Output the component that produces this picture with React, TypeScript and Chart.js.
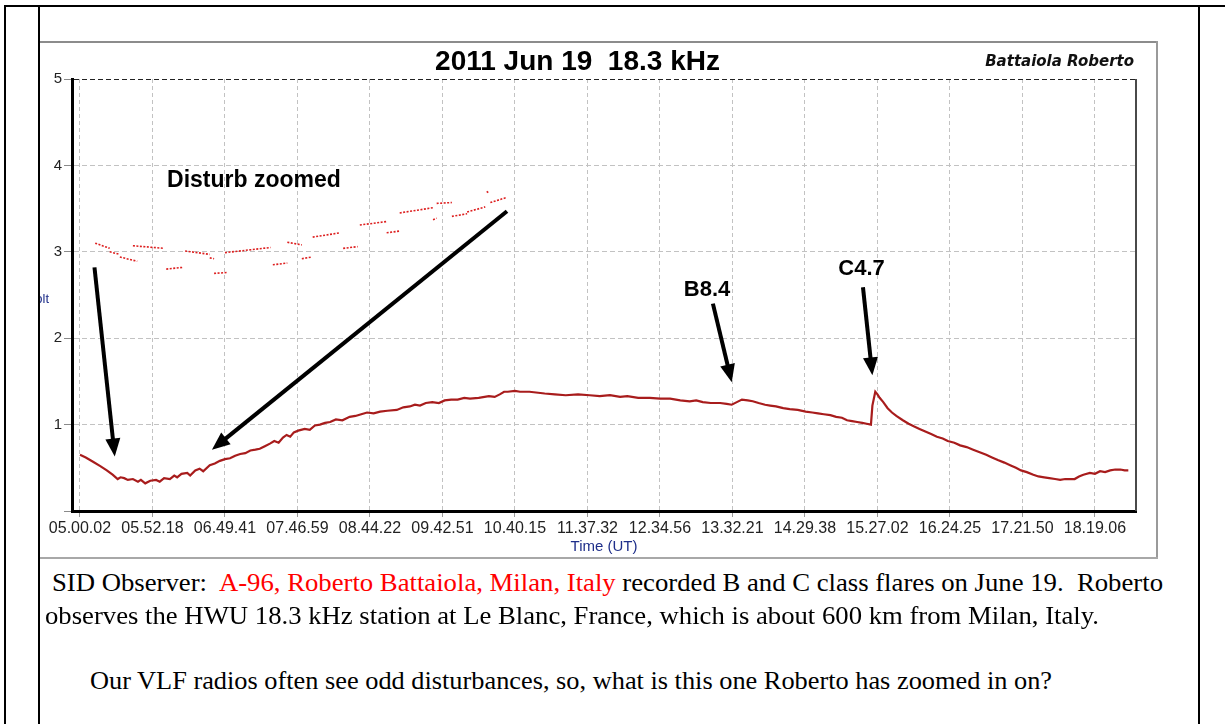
import React, { useEffect, useLayoutEffect, useRef } from "react";
import { Chart, registerables } from "chart.js";

Chart.register(...registerables);

// ---------- data ----------
const chartTitle = "2011 Jun 19  18.3 kHz";
const authorName = "Battaiola Roberto";
const xAxisTitle = "Time (UT)";
const yAxisTitle = "Volt";

const tickLabels = [
  "05.00.02", "05.52.18", "06.49.41", "07.46.59", "08.44.22", "09.42.51", "10.40.15",
  "11.37.32", "12.34.56", "13.32.21", "14.29.38", "15.27.02", "16.24.25", "17.21.50", "18.19.06",
];
const yTicks = [0, 1, 2, 3, 4, 5];

// main 18.3 kHz trace: position in tick-label units, amplitude in volt
const traceTime = [
  0.00, 0.08, 0.18, 0.28, 0.37, 0.45, 0.52, 0.56, 0.61, 0.66, 0.73, 0.80, 0.84, 0.90, 0.97, 1.05,
  1.10, 1.16, 1.24, 1.30, 1.34, 1.40, 1.48, 1.52, 1.59, 1.65, 1.70, 1.79, 1.86, 1.93, 2.00, 2.07,
  2.14, 2.21, 2.28, 2.35, 2.42, 2.48, 2.55, 2.62, 2.68, 2.74, 2.80, 2.85, 2.90, 2.95, 3.01, 3.10,
  3.17, 3.24, 3.31, 3.38, 3.45, 3.53, 3.62, 3.72, 3.80, 3.88, 3.96, 4.05, 4.14, 4.24, 4.37, 4.46,
  4.55, 4.62, 4.69, 4.77, 4.86, 4.95, 5.03, 5.12, 5.21, 5.30, 5.38, 5.50, 5.64, 5.72, 5.79, 5.85,
  5.90, 6.00, 6.07, 6.20, 6.41, 6.55, 6.70, 6.87, 7.03, 7.17, 7.31, 7.45, 7.55, 7.70, 7.86, 8.00,
  8.14, 8.28, 8.41, 8.50, 8.59, 8.70, 8.83, 8.92, 8.99, 9.06, 9.13, 9.21, 9.28, 9.36, 9.45, 9.52,
  9.60, 9.70, 9.79, 9.90, 10.01, 10.10, 10.18, 10.26, 10.35, 10.43, 10.51, 10.58, 10.65, 10.72,
  10.79, 10.85, 10.91, 10.93, 10.97, 11.00, 11.03, 11.08, 11.14, 11.20, 11.26, 11.35, 11.43, 11.50,
  11.58, 11.66, 11.74, 11.82, 11.90, 11.97, 12.06, 12.14, 12.23, 12.32, 12.41, 12.50, 12.58, 12.66,
  12.75, 12.83, 12.91, 12.98, 13.06, 13.15, 13.22, 13.30, 13.37, 13.45, 13.52, 13.59, 13.66, 13.72,
  13.78, 13.84, 13.93, 14.00, 14.07, 14.14, 14.21, 14.28, 14.35, 14.41, 14.46,
];
const traceVolt = [
  0.65, 0.62, 0.57, 0.52, 0.47, 0.42, 0.37, 0.39, 0.38, 0.36, 0.37, 0.34, 0.36, 0.32, 0.35, 0.36,
  0.34, 0.38, 0.37, 0.41, 0.39, 0.43, 0.44, 0.41, 0.47, 0.49, 0.46, 0.53, 0.55, 0.58, 0.60, 0.61,
  0.64, 0.66, 0.67, 0.70, 0.71, 0.72, 0.75, 0.78, 0.81, 0.79, 0.85, 0.88, 0.86, 0.91, 0.93, 0.95,
  0.94, 0.99, 1.00, 1.02, 1.03, 1.06, 1.05, 1.09, 1.10, 1.12, 1.14, 1.13, 1.15, 1.16, 1.17, 1.20,
  1.21, 1.23, 1.22, 1.25, 1.26, 1.25, 1.28, 1.29, 1.29, 1.31, 1.30, 1.31, 1.33, 1.32, 1.35, 1.38,
  1.38, 1.39, 1.38, 1.38, 1.36, 1.35, 1.34, 1.35, 1.34, 1.33, 1.34, 1.32, 1.33, 1.31, 1.31, 1.30,
  1.30, 1.28, 1.27, 1.28, 1.26, 1.25, 1.25, 1.24, 1.23, 1.26, 1.29, 1.28, 1.27, 1.25, 1.23, 1.22,
  1.21, 1.19, 1.18, 1.17, 1.15, 1.14, 1.13, 1.12, 1.11, 1.09, 1.08, 1.05, 1.04, 1.03,
  1.02, 1.01, 1.00, 1.22, 1.38, 1.35, 1.31, 1.26, 1.19, 1.14, 1.10, 1.05, 1.01, 0.98,
  0.95, 0.92, 0.89, 0.86, 0.84, 0.81, 0.79, 0.76, 0.74, 0.71, 0.68, 0.65, 0.62, 0.59,
  0.56, 0.53, 0.50, 0.47, 0.45, 0.42, 0.40, 0.39, 0.38, 0.37, 0.36, 0.37, 0.37, 0.37,
  0.40, 0.42, 0.44, 0.43, 0.46, 0.45, 0.47, 0.48, 0.48, 0.47, 0.47,
];

// zoomed disturbance: stepped segments (start, end, value at start, value at end)
const disturbStart = [0.21, 0.41, 0.55, 0.73, 1.19, 1.45, 1.79, 1.85, 2.00, 2.66, 2.86, 3.06, 3.21, 3.63, 3.86, 4.23, 4.41, 4.87, 4.92, 5.13, 5.34, 5.61, 5.66];
const disturbEnd = [0.41, 0.55, 0.79, 1.16, 1.42, 1.79, 1.85, 2.03, 2.63, 2.86, 3.06, 3.20, 3.59, 3.83, 4.23, 4.41, 4.87, 4.92, 5.13, 5.34, 5.59, 5.64, 5.89];
const disturbFrom = [3.10, 3.00, 2.94, 3.07, 2.80, 3.01, 2.93, 2.75, 2.99, 2.85, 3.11, 2.92, 3.17, 3.04, 3.31, 3.22, 3.45, 3.37, 3.56, 3.41, 3.46, 3.70, 3.57];
const disturbTo = [3.04, 2.97, 2.89, 3.04, 2.82, 2.97, 2.92, 2.76, 3.05, 2.87, 3.08, 2.94, 3.22, 3.06, 3.35, 3.24, 3.51, 3.39, 3.57, 3.44, 3.52, 3.68, 3.63];

// annotations
const noteText = ["Disturb zoomed", "B8.4", "C4.7"];
const noteX = [2.40, 8.65, 10.78];
const noteY = [3.82, 2.56, 2.80];
const arrowTailX = [0.20, 5.89, 8.73, 10.80];
const arrowTailY = [2.82, 3.47, 2.40, 2.59];
const arrowTipX = [0.48, 1.82, 8.99, 10.93];
const arrowTipY = [0.63, 0.71, 1.49, 1.57];

const X_MIN = -0.11;
const X_MAX = 14.566;

const SANS = '"Liberation Sans", Arial, Helvetica, sans-serif';
const SERIF = '"Liberation Serif", "Times New Roman", Times, serif';

function drawArrow(ctx: CanvasRenderingContext2D, x1: number, y1: number, x2: number, y2: number) {
  const ang = Math.atan2(y2 - y1, x2 - x1);
  const headLen = 18;
  const headW = 7.5;
  const c = Math.cos(ang);
  const s = Math.sin(ang);
  const bx = x2 - headLen * c;
  const by = y2 - headLen * s;
  ctx.strokeStyle = "#000";
  ctx.lineWidth = 4;
  ctx.lineCap = "butt";
  ctx.beginPath();
  ctx.moveTo(x1, y1);
  ctx.lineTo(bx + 2 * c, by + 2 * s);
  ctx.stroke();
  ctx.fillStyle = "#000";
  ctx.beginPath();
  ctx.moveTo(x2, y2);
  ctx.lineTo(bx - headW * s, by + headW * c);
  ctx.lineTo(bx + headW * s, by - headW * c);
  ctx.closePath();
  ctx.fill();
}

const overlayPlugin = {
  id: "overlay",
  afterDraw(chart: any) {
    const { ctx, chartArea: a, scales } = chart;
    const xs = scales.x;
    const ys = scales.y;
    ctx.save();
    // right frame of plot
    ctx.strokeStyle = "#4a4a4a";
    ctx.lineWidth = 2;
    ctx.beginPath();
    ctx.moveTo(a.right, a.top);
    ctx.lineTo(a.right, a.bottom);
    ctx.stroke();
    // arrows
    for (let i = 0; i < arrowTailX.length; i++) {
      drawArrow(
        ctx,
        xs.getPixelForValue(arrowTailX[i]),
        ys.getPixelForValue(arrowTailY[i]),
        xs.getPixelForValue(arrowTipX[i]),
        ys.getPixelForValue(arrowTipY[i])
      );
    }
    // labels
    ctx.fillStyle = "#000";
    ctx.textAlign = "center";
    ctx.textBaseline = "middle";
    for (let i = 0; i < noteText.length; i++) {
      ctx.font = `bold ${i === 0 ? 23 : 22}px ${SANS}`;
      ctx.fillText(noteText[i], xs.getPixelForValue(noteX[i]), ys.getPixelForValue(noteY[i]));
    }
    // title
    ctx.font = `bold 28px ${SANS}`;
    ctx.fillStyle = "#000";
    ctx.fillText(chartTitle, a.left + 505.5, a.top - 17);
    // author
    ctx.textAlign = "right";
    ctx.font = `italic bold 15px "DejaVu Sans", ${SANS}`;
    ctx.fillStyle = "#111";
    ctx.fillText(authorName, a.right - 2, a.top - 17);
    ctx.restore();
  },
};

function ChartBox() {
  const ref = useRef<HTMLCanvasElement>(null);
  useEffect(() => {
    const canvas = ref.current;
    if (!canvas) return;
    const traceData = traceTime.map((x, i) => ({ x, y: traceVolt[i] }));
    const disturbData: { x: number; y: number | null }[] = [];
    disturbStart.forEach((s, i) => {
      disturbData.push({ x: s, y: disturbFrom[i] });
      disturbData.push({ x: disturbEnd[i], y: disturbTo[i] });
      disturbData.push({ x: disturbEnd[i], y: null });
    });
    const chart = new Chart(canvas, {
      type: "line",
      data: {
        datasets: [
          {
            label: "18.3 kHz",
            data: traceData,
            borderColor: "#a81c1c",
            borderWidth: 2.2,
            pointRadius: 0,
            tension: 0,
          },
          {
            label: "Disturb zoomed",
            data: disturbData as any,
            borderColor: "#dd1f1f",
            borderWidth: 1.6,
            borderDash: [2, 1.5],
            pointRadius: 0,
            tension: 0,
            spanGaps: false,
          },
        ],
      },
      options: {
        animation: false,
        responsive: false,
        maintainAspectRatio: false,
        layout: { padding: { top: 37, right: 22, left: 0, bottom: 0 } },
        plugins: {
          legend: { display: false },
          tooltip: { enabled: false },
          title: { display: false },
        },
        scales: {
          x: {
            type: "linear",
            min: X_MIN,
            max: X_MAX,
            afterBuildTicks: (s: any) => {
              s.ticks = tickLabels.map((_, i) => ({ value: i }));
            },
            afterFit: (s: any) => {
              s.height = 47;
            },
            ticks: {
              autoSkip: false,
              maxRotation: 0,
              minRotation: 0,
              padding: 2,
              color: "#222",
              font: { family: SANS, size: 16 },
              callback: (v: any) => tickLabels[Math.round(Number(v))] ?? "",
            },
            grid: {
              color: "#c2c2c2",
              lineWidth: 1,
              tickLength: 6,
              tickColor: "#9a9a9a",
            },
            border: { display: true, color: "#000", width: 3, dash: [4, 3] },
            title: {
              display: true,
              text: xAxisTitle,
              color: "#1f2f8a",
              font: { family: SANS, size: 15 },
              padding: { top: 0, bottom: 2 },
            },
          },
          y: {
            min: 0,
            max: 5,
            afterBuildTicks: (s: any) => {
              s.ticks = yTicks.map((v) => ({ value: v }));
            },
            afterFit: (s: any) => {
              s.width = 32;
            },
            ticks: {
              padding: 2,
              color: "#222",
              font: { family: SANS, size: 15 },
              callback: (v: any) => (Number(v) === 0 ? "" : String(v)),
            },
            grid: {
              color: (c: any) =>
                c.tick && c.tick.value === 5 ? "#222" : c.tick && c.tick.value === 0 ? "rgba(0,0,0,0)" : "#c2c2c2",
              lineWidth: 1,
              tickLength: 8,
              tickColor: "#8a8a8a",
            },
            border: { display: true, color: "#000", width: 3, dash: [5, 3] },
          },
        },
      },
      plugins: [overlayPlugin],
    });
    return () => chart.destroy();
  }, []);
  return (
    <canvas
      ref={ref}
      width={1118}
      height={516}
      style={{ position: "absolute", left: 0, top: 1, width: 1118, height: 516 }}
    />
  );
}

function FitLine({ left, top, width, children }: { left: number; top: number; width: number; children: any }) {
  const ref = useRef<HTMLDivElement>(null);
  useLayoutEffect(() => {
    const el = ref.current;
    if (!el) return;
    el.style.transform = "none";
    const w = el.getBoundingClientRect().width;
    if (w > 0) el.style.transform = `scaleX(${width / w})`;
  }, [width]);
  return (
    <div
      ref={ref}
      style={{
        position: "absolute",
        left,
        top,
        whiteSpace: "pre",
        transformOrigin: "0 0",
        fontFamily: SERIF,
        fontSize: 26,
        lineHeight: "30px",
        color: "#000",
      }}
    >
      {children}
    </div>
  );
}

export default function App() {
  const line = (left: number, top: number, width: number, height: number, color = "#000") => (
    <div style={{ position: "absolute", left, top, width, height, background: color }} />
  );
  return (
    <div
      style={{
        position: "absolute",
        left: 0,
        top: 0,
        width: 1225,
        height: 724,
        background: "#fff",
        overflow: "hidden",
      }}
    >
      {/* chart picture */}
      <div
        style={{
          position: "absolute",
          left: 40,
          top: 41,
          width: 1118,
          height: 518,
          background: "#fff",
        }}
      >
        <ChartBox />
        {line(0, 0, 1118, 2, "#8c8c8c")}
        {line(1116, 0, 2, 518, "#9a9a9a")}
        {line(0, 516, 1118, 2, "#a8a8a8")}
        <div
          style={{
            position: "absolute",
            left: 0,
            top: 249,
            width: 10,
            height: 18,
            overflow: "hidden",
          }}
        >
          <span
            style={{
              position: "absolute",
              right: 1,
              top: 0,
              fontFamily: SANS,
              fontSize: 13,
              lineHeight: "18px",
              color: "#1f2f8a",
              whiteSpace: "nowrap",
            }}
          >
            {yAxisTitle}
          </span>
        </div>
      </div>

      {/* page frame */}
      {line(4, 5, 1221, 2)}
      {line(4, 5, 2, 719)}
      {line(38, 5, 2, 719)}
      {line(1198, 5, 2, 719)}

      {/* text */}
      <FitLine left={52} top={568} width={1111}>
        {"SID Observer:  "}
        <span style={{ color: "#ff0000" }}>A-96, Roberto Battaiola, Milan, Italy</span>
        {" recorded B and C class flares on June 19.  Roberto"}
      </FitLine>
      <FitLine left={45} top={601} width={1054}>
        {"observes the HWU 18.3 kHz station at Le Blanc, France, which is about 600 km from Milan, Italy."}
      </FitLine>
      <FitLine left={90} top={666} width={962}>
        {"Our VLF radios often see odd disturbances, so, what is this one Roberto has zoomed in on?"}
      </FitLine>
    </div>
  );
}
